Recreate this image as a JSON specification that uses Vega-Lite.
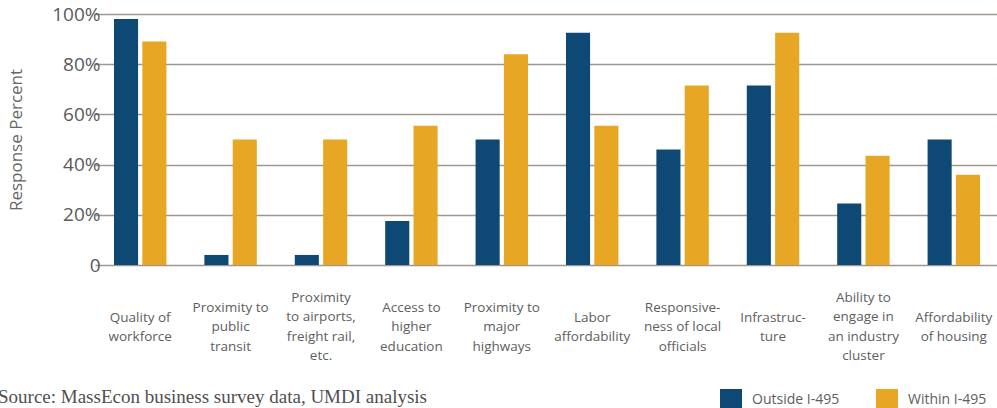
{
  "$schema": "https://vega.github.io/schema/vega-lite/v6.json",
  "width": 888,
  "height": 251,
  "autosize": "none",
  "padding": {"left": 109, "top": 14, "right": 0, "bottom": 143},
  "background": "white",
  "config": {"view": {"stroke": null}},
  "title": {
    "text": "Source: MassEcon business survey data, UMDI analysis",
    "orient": "bottom",
    "anchor": "start",
    "frame": "group",
    "dx": -111,
    "offset": -23,
    "font": "Liberation Serif",
    "fontSize": 19,
    "fontWeight": "normal",
    "color": "#505050"
  },
  "data": {
    "values": [
      {"factor": "Quality of workforce", "series": "Outside I-495", "pct": 98},
      {"factor": "Quality of workforce", "series": "Within I-495", "pct": 89},
      {"factor": "Proximity to public transit", "series": "Outside I-495", "pct": 4},
      {"factor": "Proximity to public transit", "series": "Within I-495", "pct": 50},
      {"factor": "Proximity to airports, freight rail, etc.", "series": "Outside I-495", "pct": 4},
      {"factor": "Proximity to airports, freight rail, etc.", "series": "Within I-495", "pct": 50},
      {"factor": "Access to higher education", "series": "Outside I-495", "pct": 17.5},
      {"factor": "Access to higher education", "series": "Within I-495", "pct": 55.5},
      {"factor": "Proximity to major highways", "series": "Outside I-495", "pct": 50},
      {"factor": "Proximity to major highways", "series": "Within I-495", "pct": 84},
      {"factor": "Labor affordability", "series": "Outside I-495", "pct": 92.5},
      {"factor": "Labor affordability", "series": "Within I-495", "pct": 55.5},
      {"factor": "Responsiveness of local officials", "series": "Outside I-495", "pct": 46},
      {"factor": "Responsiveness of local officials", "series": "Within I-495", "pct": 71.5},
      {"factor": "Infrastructure", "series": "Outside I-495", "pct": 71.5},
      {"factor": "Infrastructure", "series": "Within I-495", "pct": 92.5},
      {"factor": "Ability to engage in an industry cluster", "series": "Outside I-495", "pct": 24.5},
      {"factor": "Ability to engage in an industry cluster", "series": "Within I-495", "pct": 43.5},
      {"factor": "Affordability of housing", "series": "Outside I-495", "pct": 50},
      {"factor": "Affordability of housing", "series": "Within I-495", "pct": 36}
    ]
  },
  "mark": {"type": "bar"},
  "encoding": {
    "x": {
      "field": "factor",
      "type": "nominal",
      "sort": null,
      "scale": {"range": [-14, 890], "paddingInner": 0.42, "paddingOuter": 0.21},
      "axis": {
        "title": null,
        "domain": false,
        "ticks": false,
        "labelAngle": 0,
        "labelBaseline": "middle",
        "labelPadding": {
          "condition": [
            {"test": "datum.value === 'Quality of workforce' || datum.value === 'Labor affordability' || datum.value === 'Infrastructure' || datum.value === 'Affordability of housing'", "value": 52},
            {"test": "datum.value === 'Proximity to airports, freight rail, etc.' || datum.value === 'Ability to engage in an industry cluster'", "value": 32}
          ],
          "value": 42
        },
        "labelLineHeight": 19.5,
        "labelFont": "Open Sans",
        "labelFontSize": 13.5,
        "labelColor": "#5e5e5e",
        "labelLimit": 0,
        "labelExpr": "{'Quality of workforce': ['Quality of','workforce'], 'Proximity to public transit': ['Proximity to','public','transit'], 'Proximity to airports, freight rail, etc.': ['Proximity','to airports,','freight rail,','etc.'], 'Access to higher education': ['Access to','higher','education'], 'Proximity to major highways': ['Proximity to','major','highways'], 'Labor affordability': ['Labor','affordability'], 'Responsiveness of local officials': ['Responsive-','ness of local','officials'], 'Infrastructure': ['Infrastruc-','ture'], 'Ability to engage in an industry cluster': ['Ability to','engage in','an industry','cluster'], 'Affordability of housing': ['Affordability','of housing']}[datum.label]"
      }
    },
    "xOffset": {
      "field": "series",
      "type": "nominal",
      "scale": {"paddingInner": 0.15, "paddingOuter": 0}
    },
    "y": {
      "field": "pct",
      "type": "quantitative",
      "scale": {"domain": [0, 100]},
      "axis": {
        "title": "Response Percent",
        "titleFont": "Open Sans",
        "titleFontSize": 17,
        "titleFontWeight": "normal",
        "titleColor": "#666666",
        "titlePadding": 26,
        "values": [0, 20, 40, 60, 80, 100],
        "domain": false,
        "ticks": false,
        "labelPadding": 9,
        "labelFont": "Open Sans",
        "labelFontSize": 19,
        "labelColor": "#5a5a5a",
        "labelExpr": "datum.value == 0 ? '0' : datum.value + '%'",
        "grid": true,
        "gridColor": "#a0968e",
        "gridWidth": 1.6,
        "gridOpacity": 1
      }
    },
    "color": {
      "field": "series",
      "type": "nominal",
      "scale": {"domain": ["Outside I-495", "Within I-495"], "range": ["#0e4874", "#e7a724"]},
      "legend": {
        "title": null,
        "orient": "none",
        "legendX": 611,
        "legendY": 375,
        "direction": "horizontal",
        "symbolType": "square",
        "symbolSize": 484,
        "symbolStrokeWidth": 0,
        "symbolOpacity": 1,
        "labelFont": "Open Sans",
        "labelFontSize": 14,
        "labelColor": "#5e5e5e",
        "labelOffset": 10,
        "columnPadding": 36
      }
    }
  }
}
